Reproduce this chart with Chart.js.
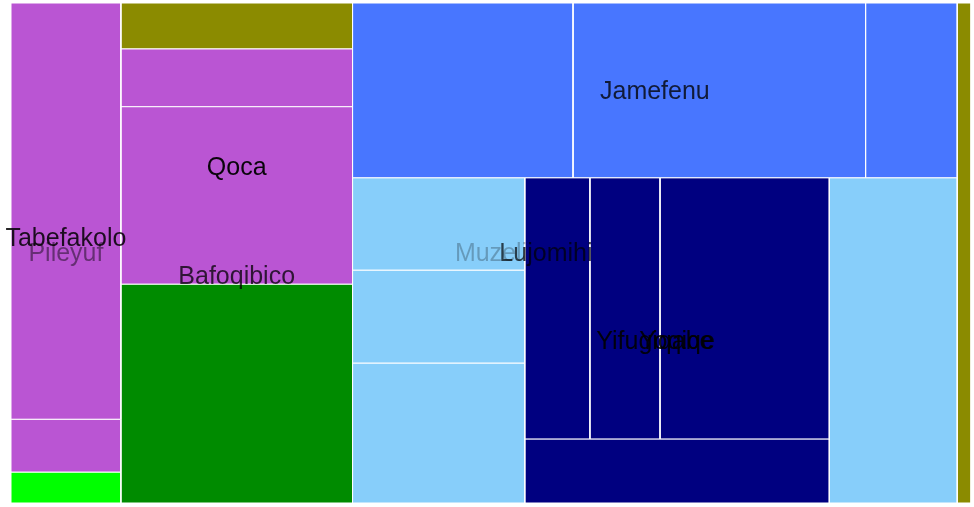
<!DOCTYPE html>
<html>
<head>
<meta charset="utf-8">
<script src="https://cdn.jsdelivr.net/npm/chart.js@4.4.1/dist/chart.umd.min.js"></script>
<style>
  html, body { margin: 0; padding: 0; background: #fff; }
  #wrap { width: 974px; height: 507px; }
</style>
</head>
<body>
<div id="wrap"><canvas id="chart"></canvas></div>
<script>
// hierarchy: node names, their parents, and leaf values (groups are summed)
const names = [
  'Muzeli', 'Pileyuf', 'Tabefakolo', 'Tabefakolo 1', 'Tabefakolo 2', 'Pileyuf 1',
  'Lujomihi', 'Lujomihi 1', 'Bafoqibico', 'Qoca', 'Qoca 1', 'Qoca 2', 'Bafoqibico 1',
  'Jamefenu', 'Jamefenu 1', 'Jamefenu 2', 'Jamefenu 3',
  'Yifugiqabe', 'Yifugiqabe 1', 'Yifugiqabe 2', 'Yifugiqabe 3',
  'Yoqiqe', 'Yoqiqe 1', 'Yoqiqe 2', 'Yoqiqe 3', 'Yoqiqe 4',
  'Yifugiqabe 4', 'Lujomihi 2',
];
const parents = [
  '', 'Muzeli', 'Pileyuf', 'Tabefakolo', 'Tabefakolo', 'Pileyuf',
  'Muzeli', 'Lujomihi', 'Lujomihi', 'Bafoqibico', 'Qoca', 'Qoca', 'Bafoqibico',
  'Lujomihi', 'Jamefenu', 'Jamefenu', 'Jamefenu',
  'Lujomihi', 'Yifugiqabe', 'Yifugiqabe', 'Yifugiqabe',
  'Yifugiqabe', 'Yoqiqe', 'Yoqiqe', 'Yoqiqe', 'Yoqiqe',
  'Yifugiqabe', 'Lujomihi',
];
const values = [
  0, 0, 0, 457, 58, 34,
  0, 106, 0, 0, 134, 411, 507,
  0, 385, 511, 160,
  0, 159, 160, 241,
  0, 170, 183, 442, 195,
  416, 69,
];

// leaf colour by parent group
const groupColors = {
  Pileyuf: '#00ff00',
  Tabefakolo: '#ba55d3',
  Lujomihi: '#8b8b00',
  Bafoqibico: '#008b00',
  Qoca: '#ba55d3',
  Jamefenu: '#4876ff',
  Yifugiqabe: '#87cefa',
  Yoqiqe: '#000080',
};
const labelColors = {
  Muzeli: 'rgba(0,0,0,0.25)',
  Pileyuf: 'rgba(0,0,0,0.45)',
  Tabefakolo: 'rgba(0,0,0,0.85)',
  Lujomihi: 'rgba(0,0,0,0.7)',
  Bafoqibico: 'rgba(0,0,0,0.75)',
  Qoca: 'rgba(0,0,0,0.95)',
  Jamefenu: 'rgba(0,0,0,0.78)',
  Yifugiqabe: 'rgba(0,0,0,0.9)',
  Yoqiqe: 'rgba(0,0,0,0.9)',
};
// how many children go into each row of a group's tiling
const rowSizes = {
  Lujomihi: [2, 2, 1],
  Yifugiqabe: [3, 1, 1],
  Yoqiqe: [3, 1],
};

const W = 960;
const H = 500;

const children = {};
names.forEach((n) => { children[n] = []; });
names.forEach((n, i) => { if (parents[i]) children[parents[i]].push(n); });
const total = {};
function sumNode(n) {
  const i = names.indexOf(n);
  total[n] = children[n].length ? children[n].reduce((s, k) => s + sumNode(k), 0) : values[i];
  return total[n];
}
sumNode(names[0]);

const rects = {};
function tile(n, x0, y0, x1, y1) {
  rects[n] = { x0, y0, x1, y1 };
  const kids = children[n];
  if (!kids.length) return;
  const rows = rowSizes[n] || kids.map(() => 1);
  let remaining = total[n];
  let i = 0;
  rows.forEach((count) => {
    const row = kids.slice(i, i + count);
    i += count;
    const rowSum = row.reduce((s, k) => s + total[k], 0);
    const w = x1 - x0;
    const h = y1 - y0;
    if (w >= h) {
      const cx = x0 + w * rowSum / remaining;
      let cy = y0;
      row.forEach((k) => {
        const ny = cy + h * total[k] / rowSum;
        tile(k, x0, cy, cx, ny);
        cy = ny;
      });
      x0 = cx;
    } else {
      const cy = y0 + h * rowSum / remaining;
      let cx = x0;
      row.forEach((k) => {
        const nx = cx + w * total[k] / rowSum;
        tile(k, cx, y0, nx, cy);
        cx = nx;
      });
      y0 = cy;
    }
    remaining -= rowSum;
  });
}
tile(names[0], 0, 0, W, H);

const leaves = names.filter((n) => !children[n].length);
const groups = names.filter((n) => children[n].length);
const depth = (n) => (parents[names.indexOf(n)] ? depth(parents[names.indexOf(n)]) + 1 : 0);

const datasets = leaves.map((n) => {
  const r = rects[n];
  return {
    label: n,
    data: [
      { x: r.x0, y: r.y0 }, { x: r.x1, y: r.y0 }, { x: r.x1, y: r.y1 },
      { x: r.x0, y: r.y1 }, { x: r.x0, y: r.y0 },
    ],
    backgroundColor: groupColors[parents[names.indexOf(n)]],
    borderColor: '#ffffff',
    borderWidth: 1,
    fill: 'shape',
    pointRadius: 0,
    pointHoverRadius: 0,
    tension: 0,
  };
});

const groupLabels = {
  id: 'groupLabels',
  afterDatasetsDraw(chart) {
    const { ctx } = chart;
    const xs = chart.scales.x;
    const ys = chart.scales.y;
    ctx.save();
    ctx.font = '25px "Liberation Sans", Arial, sans-serif';
    ctx.textAlign = 'center';
    ctx.textBaseline = 'middle';
    [...groups].sort((a, b) => depth(a) - depth(b)).forEach((n) => {
      const r = rects[n];
      ctx.fillStyle = labelColors[n];
      ctx.fillText(n, xs.getPixelForValue((r.x0 + r.x1) / 2), ys.getPixelForValue((r.y0 + r.y1) / 2) + 1.5);
    });
    ctx.restore();
  },
};

new Chart(document.getElementById('chart'), {
  type: 'line',
  data: { datasets },
  options: {
    responsive: true,
    maintainAspectRatio: false,
    animation: false,
    layout: { padding: { left: 11, right: 3, top: 3, bottom: 4 } },
    scales: {
      x: { type: 'linear', min: 0, max: W, display: false },
      y: { type: 'linear', min: 0, max: H, reverse: true, display: false },
    },
    plugins: {
      legend: { display: false },
      tooltip: { enabled: false },
    },
  },
  plugins: [groupLabels],
});
</script>
</body>
</html>
